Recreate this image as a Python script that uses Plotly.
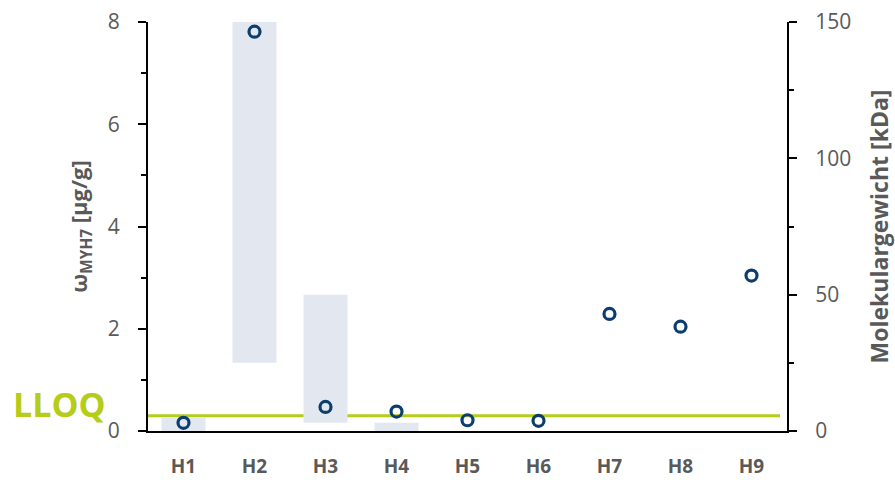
import plotly.graph_objects as go

# Sample labels
samples = ["H1", "H2", "H3", "H4", "H5", "H6", "H7", "H8", "H9"]

# MYH7 mass fraction per sample [µg/g]
myh7 = [0.16, 7.81, 0.47, 0.38, 0.21, 0.20, 2.29, 2.04, 3.04]

# Molecular weight ranges [kDa] (low, high); None where no band was found
mw_low = [0, 25, 3, 0, None, None, None, None, None]
mw_high = [5, 150, 50, 3, None, None, None, None, None]

# Lower limit of quantification [µg/g]
lloq = 0.3

GRAY = "#595959"
FONT = "Open Sans"

bar_len = [(hi - lo) if (hi is not None and lo is not None) else None
           for lo, hi in zip(mw_low, mw_high)]

fig = go.Figure()

# Molecular weight bands on the right-hand (kDa) axis
fig.add_trace(go.Bar(
    x=samples, y=bar_len, base=mw_low, yaxis="y",
    marker=dict(color="#e3e8f0", line=dict(width=0)),
    width=0.62, showlegend=False, hoverinfo="skip",
))

# MYH7 content on the left-hand axis (overlay, drawn on top)
fig.add_trace(go.Scatter(
    x=samples, y=myh7, mode="markers", yaxis="y2",
    marker=dict(symbol="circle-open", size=11, color="#0b3d6e",
                line=dict(width=3.2, color="#0b3d6e")),
    showlegend=False,
))

# LLOQ line across the plot
fig.add_shape(type="line", xref="paper", yref="y2",
              x0=0, x1=0.989, y0=lloq, y1=lloq,
              line=dict(color="#b5cc18", width=3), layer="between")

fig.add_annotation(text="<b>LLOQ</b>", xref="paper", yref="y2",
                   x=-0.062, y=0.53, xanchor="right", yanchor="middle",
                   showarrow=False,
                   font=dict(family=FONT, size=34, color="#b5cc18"))

tick_common = dict(
    showline=True, linecolor="black", linewidth=2,
    ticks="outside", ticklen=8, tickwidth=2, tickcolor="black",
    showgrid=False, zeroline=False, automargin=False,
    tickfont=dict(family=FONT, size=21, color=GRAY),
    ticklabelstandoff=14,
)

fig.update_layout(
    width=895, height=480,
    margin=dict(l=148, r=108, t=22, b=49),
    plot_bgcolor="white", paper_bgcolor="white",
    font=dict(family=FONT, color=GRAY, size=20),
    xaxis=dict(
        type="category", range=[-0.5, 8.5], automargin=False,
        showline=True, linecolor="black", linewidth=2,
        ticks="", showgrid=False, zeroline=False,
        tickfont=dict(family=FONT, size=19, color=GRAY, weight="bold"),
        ticklabelstandoff=17,
    ),
    yaxis=dict(
        range=[0, 150], tickvals=[0, 50, 100, 150], side="right",
        minor=dict(ticks="outside", dtick=25, ticklen=5, tickwidth=2,
                   tickcolor="black", showgrid=False),
        title=dict(text="<b>Molekulargewicht [kDa]</b>",
                   font=dict(family=FONT, size=23, color=GRAY), standoff=22),
        **tick_common,
    ),
    yaxis2=dict(
        range=[0, 8], tickvals=[0, 2, 4, 6, 8], side="left", overlaying="y",
        minor=dict(ticks="outside", dtick=1, ticklen=5, tickwidth=2,
                   tickcolor="black", showgrid=False),
        title=dict(text="<b>ω<sub>MYH7</sub> [µg/g]</b>",
                   font=dict(family=FONT, size=22, color=GRAY), standoff=14),
        **tick_common,
    ),
)

fig.write_html("out.html")
